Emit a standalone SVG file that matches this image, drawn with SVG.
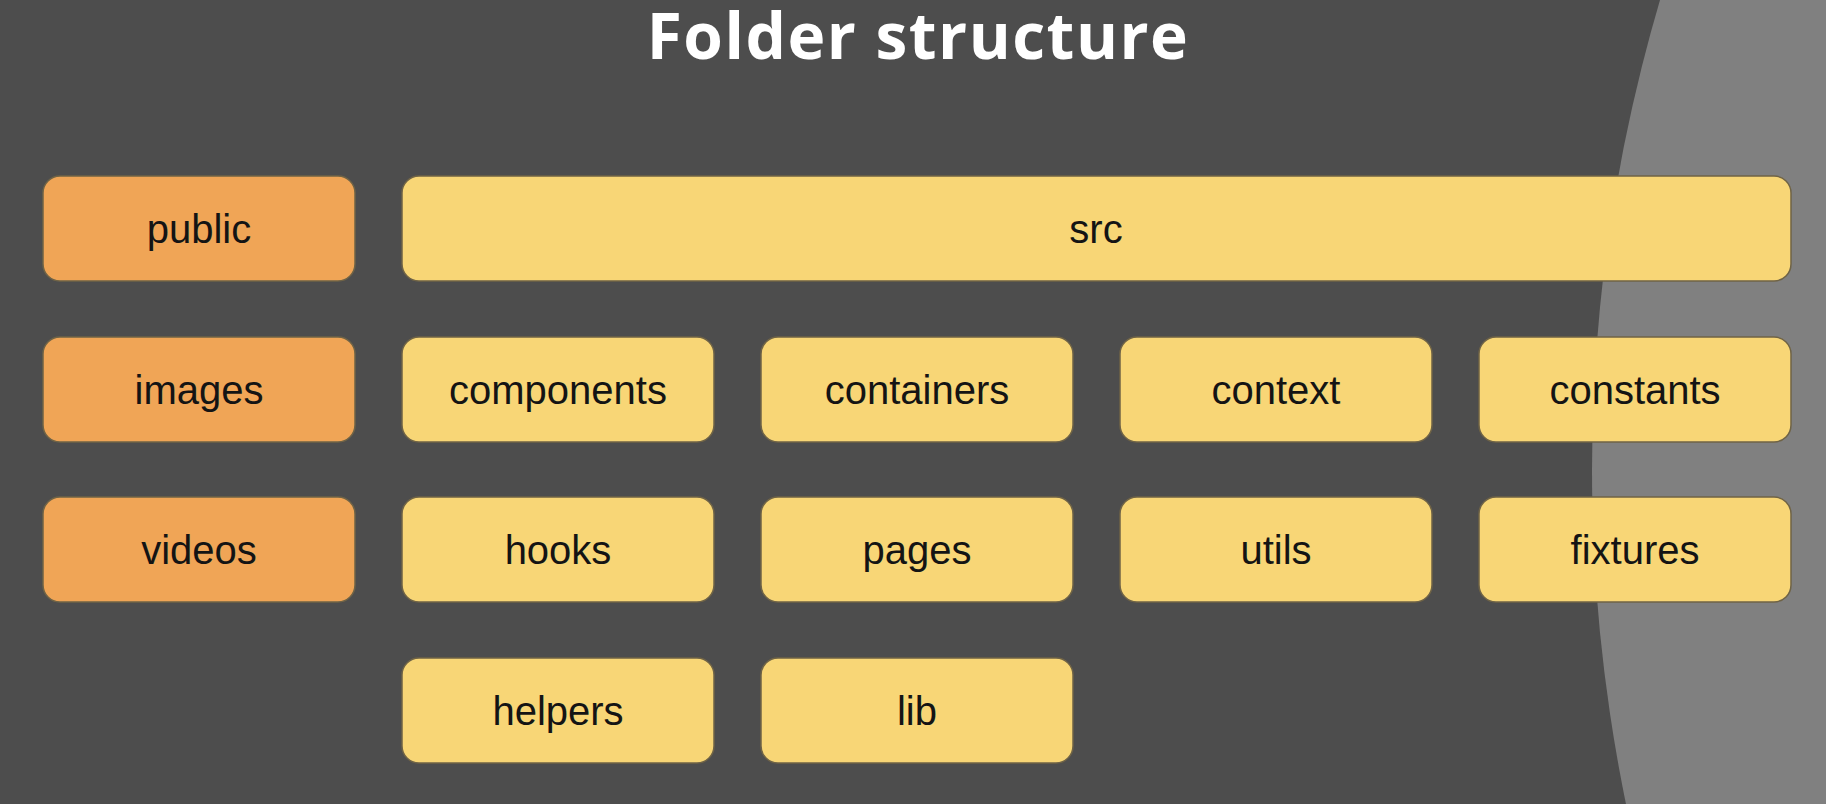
<svg xmlns="http://www.w3.org/2000/svg" width="1826" height="804" viewBox="0 0 1826 804">
  <style>
    .title { font-family: "Open Sans", Lato, sans-serif; font-weight: 700; font-size: 64px; letter-spacing: 1.5px; fill: #ffffff; }
    .box rect { stroke: #6f6346; stroke-width: 1.5; }
    .orange rect { fill: #f0a556; }
    .yellow rect { fill: #f8d676; }
    .box text { font-family: "Liberation Sans", Arial, sans-serif; font-size: 40px; fill: #141414; text-anchor: middle; }
  </style>
  <rect x="0" y="0" width="1826" height="804" fill="#4d4d4d"/>
  <circle cx="3250" cy="470" r="1658" fill="#808080"/>
  <text class="title" x="918" y="59" text-anchor="middle">Folder structure</text>
  <g id="connectors"></g>
  <g id="public" class="box orange"><rect x="43" y="176" width="312" height="105" rx="17"/><text x="199" y="243">public</text></g>
  <g id="images" class="box orange"><rect x="43" y="337" width="312" height="105" rx="17"/><text x="199" y="404">images</text></g>
  <g id="videos" class="box orange"><rect x="43" y="497" width="312" height="105" rx="17"/><text x="199" y="564">videos</text></g>
  <g id="src" class="box yellow"><rect x="402" y="176" width="1389" height="105" rx="17"/><text x="1096" y="243">src</text></g>
  <g id="components" class="box yellow"><rect x="402" y="337" width="312" height="105" rx="17"/><text x="558" y="404">components</text></g>
  <g id="containers" class="box yellow"><rect x="761" y="337" width="312" height="105" rx="17"/><text x="917" y="404">containers</text></g>
  <g id="context" class="box yellow"><rect x="1120" y="337" width="312" height="105" rx="17"/><text x="1276" y="404">context</text></g>
  <g id="constants" class="box yellow"><rect x="1479" y="337" width="312" height="105" rx="17"/><text x="1635" y="404">constants</text></g>
  <g id="hooks" class="box yellow"><rect x="402" y="497" width="312" height="105" rx="17"/><text x="558" y="564">hooks</text></g>
  <g id="pages" class="box yellow"><rect x="761" y="497" width="312" height="105" rx="17"/><text x="917" y="564">pages</text></g>
  <g id="utils" class="box yellow"><rect x="1120" y="497" width="312" height="105" rx="17"/><text x="1276" y="564">utils</text></g>
  <g id="fixtures" class="box yellow"><rect x="1479" y="497" width="312" height="105" rx="17"/><text x="1635" y="564">fixtures</text></g>
  <g id="helpers" class="box yellow"><rect x="402" y="658" width="312" height="105" rx="17"/><text x="558" y="725">helpers</text></g>
  <g id="lib" class="box yellow"><rect x="761" y="658" width="312" height="105" rx="17"/><text x="917" y="725">lib</text></g>
</svg>
